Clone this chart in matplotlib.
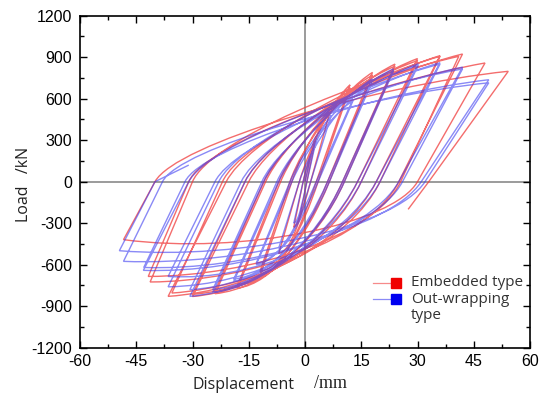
import matplotlib
matplotlib.use("Agg")
import matplotlib.pyplot as plt
from matplotlib.path import Path
from matplotlib.patches import PathPatch
from matplotlib.ticker import MultipleLocator

plt.rcParams["axes.unicode_minus"] = False

# ---------------- data ----------------
# Embedded type (red): positive peaks, envelope load, residual displacement
emb_pos_disp = [3, 7, 12, 12, 18, 18, 24, 24, 30, 30, 36, 36, 42, 41, 48, 54.2]
emb_pos_load = [330, 540, 700, 680, 790, 770, 850, 835, 890, 875, 911, 906, 923, 906, 858, 798]
emb_pos_env = [330, 540, 700, 680, 790, 770, 850, 835, 890, 875, 911, 906, 923, 906, 870, 850]
emb_pos_res = [0.5, 1.5, 3, 3.5, 6, 6.5, 10, 10.5, 14, 15, 19, 20, 25, 25.5, 30, 33]
emb_neg_disp = [-3, -7, -12, -12, -18, -18, -24, -24, -30, -30, -36.5, -35.5, -41.3, -41.8, -48.4]
emb_neg_load = [-330, -520, -680, -650, -770, -750, -810, -790, -830, -815, -829, -805, -725, -685, -419]
emb_neg_env = [-330, -520, -680, -650, -770, -750, -810, -790, -830, -815, -829, -805, -760, -720, -560]
emb_neg_res = [-0.5, -1.5, -3.5, -4, -6.5, -7, -10.5, -11, -15, -16, -21, -22, -30, -31, -40]
emb_tail = (27.5, -200)

# Out-wrapping type (blue)
out_pos_disp = [3, 7, 12.8, 12.8, 18, 18, 23.6, 23.6, 30.2, 30.2, 36, 36, 42, 42, 49, 49]
out_pos_load = [300, 480, 597, 585, 743, 730, 816, 800, 852, 840, 860, 850, 828, 815, 737, 715]
out_pos_env = [300, 480, 597, 585, 743, 730, 816, 800, 852, 840, 860, 850, 840, 830, 780, 760]
out_pos_res = [0.5, 1.5, 3, 3.5, 6, 6.5, 10, 10.5, 14, 15, 19, 20, 25, 26, 31, 32]
out_neg_disp = [-3, -7, -13, -13, -19, -19, -24.6, -24.6, -30.7, -30.7, -36.5, -36.5, -43.1, -43, -48.4, -49.5]
out_neg_load = [-300, -480, -600, -590, -720, -705, -800, -780, -829, -781, -760, -685, -641, -620, -576, -499]
out_neg_env = [-300, -480, -600, -590, -720, -705, -800, -780, -829, -790, -790, -760, -700, -680, -640, -600]
out_neg_res = [-0.5, -1.5, -3.5, -4, -7, -7.5, -11, -11.5, -16, -17, -23, -24, -31, -32, -38, -40]
out_tail = (-31, 120)

series_labels = ["Embedded type", "Out-wrapping\ntype"]
x_ticks = [-60, -45, -30, -15, 0, 15, 30, 45, 60]
y_ticks = [-1200, -900, -600, -300, 0, 300, 600, 900, 1200]

# shape of the reloading branches (first control level, second control x-fraction, second control level)
SHAPE_POS = (0.32, 0.62, 0.82)
SHAPE_NEG = (0.55, 0.60, 0.95)


def loop_path(pd, pf, pe, pr, nd, nf, ne, nr, tail):
    seq = []
    for i in range(len(pd)):
        seq.append((pd[i], pf[i], pe[i], pr[i]))
        if i < len(nd):
            seq.append((nd[i], nf[i], ne[i], nr[i]))
    verts = [(0.0, 0.0)]
    codes = [Path.MOVETO]
    x0, k = 0.0, None
    for j, (d, F, E, r) in enumerate(seq):
        if j == 0:
            verts += [(d / 3, F / 3), (2 * d / 3, 0.9 * F), (d, F)]
        else:
            c1, fx, c2 = SHAPE_POS if F > 0 else SHAPE_NEG
            span = d - x0
            a = min(c1 * E / (k * span), 0.4)
            verts += [(x0 + a * span, k * a * span), (x0 + fx * span, c2 * E), (d, F)]
        codes += [Path.CURVE4] * 3
        verts.append((r, 0.0))
        codes.append(Path.LINETO)
        k = F / (d - r)
        x0 = r
    verts.append(tail)
    codes.append(Path.LINETO)
    return Path(verts, codes)


fig = plt.figure(figsize=(5.54, 4.0), dpi=100)
ax = fig.add_axes([0.1444, 0.1308, 0.8123, 0.83])

red = "#f03c3c"
blue = "#3c3cf0"

ax.axhline(0, color="#8a8a8a", lw=1.2, zorder=1)
ax.axvline(0, color="#8a8a8a", lw=1.2, zorder=1)

p_emb = loop_path(emb_pos_disp, emb_pos_load, emb_pos_env, emb_pos_res,
                  emb_neg_disp, emb_neg_load, emb_neg_env, emb_neg_res, emb_tail)
p_out = loop_path(out_pos_disp, out_pos_load, out_pos_env, out_pos_res,
                  out_neg_disp, out_neg_load, out_neg_env, out_neg_res, out_tail)
ax.add_patch(PathPatch(p_emb, facecolor="none", edgecolor=red, lw=1.0, alpha=0.75, zorder=2))
ax.add_patch(PathPatch(p_out, facecolor="none", edgecolor=blue, lw=1.0, alpha=0.6, zorder=3))

ax.set_xlim(-60, 60)
ax.set_ylim(-1200, 1200)
ax.set_xticks(x_ticks)
ax.set_yticks(y_ticks)
ax.xaxis.set_minor_locator(MultipleLocator(7.5))
ax.yaxis.set_minor_locator(MultipleLocator(150))
ax.tick_params(which="both", direction="in", top=True, right=True, width=1.0)
ax.tick_params(which="major", length=5, labelsize=11.5)
ax.tick_params(axis="y", which="major", pad=5.5)
ax.tick_params(axis="x", which="major", pad=4.5)
ax.tick_params(which="minor", length=3)
for lab in ax.get_xticklabels() + ax.get_yticklabels():
    lab.set_family("Liberation Sans")
for s in ax.spines.values():
    s.set_linewidth(1.2)

fig.text(243 / 554, 1 - 385 / 400, "Displacement", fontsize=11.5, family="Open Sans",
         ha="center", va="center", color="#222222")
fig.text(330 / 554, 1 - 384 / 400, "/mm", fontsize=13, family="Liberation Serif",
         ha="center", va="center", color="#222222")
fig.text(24 / 554, 1 - 184 / 400, "Load   /kN", fontsize=11.5, family="Open Sans",
         rotation=90, ha="center", va="center", color="#222222")

# legend (manual)
leg_y = [0.195, 0.147]
for yy, col, lab in zip(leg_y, [red, blue], series_labels):
    ax.plot([0.651, 0.70], [yy, yy], transform=ax.transAxes, color=col, lw=0.9, alpha=0.6, zorder=5)
    ax.plot([0.703], [yy], transform=ax.transAxes, marker="s", ms=6.5, color=col.replace("3c", "00"),
            ls="none", zorder=6)
    ax.text(0.735, yy + (0.022 if "\n" in lab else 0), lab, transform=ax.transAxes, fontsize=11,
            family="Open Sans", va="top" if "\n" in lab else "center", ha="left",
            linespacing=1.15, color="#333333")

fig.savefig("out.png", dpi=100)
